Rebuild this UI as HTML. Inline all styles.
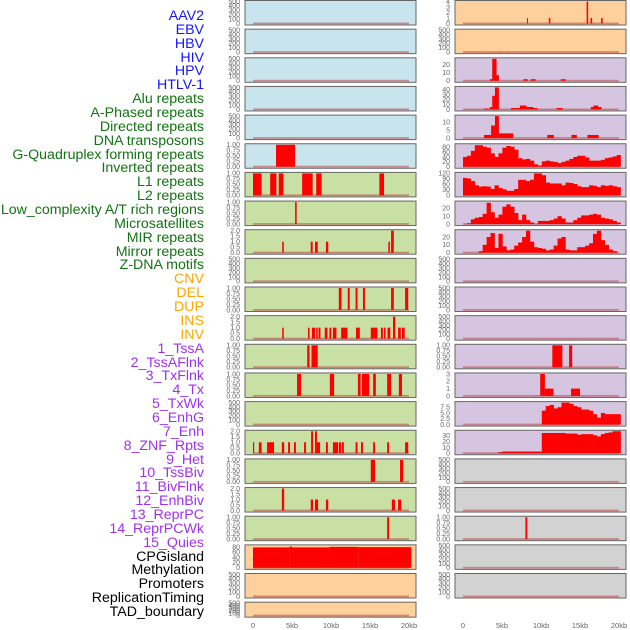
<!DOCTYPE html>
<html><head><meta charset="utf-8">
<style>
html,body{margin:0;padding:0;background:#fff;width:630px;height:630px;overflow:hidden;font-family:"Liberation Sans",sans-serif}
#labels{position:absolute;left:0;top:0;width:204px;height:630px}
.lb{position:absolute;right:0;font-size:14.2px;line-height:14px;white-space:nowrap}
svg{position:absolute;left:0;top:0}
</style></head>
<body>
<div id="labels"></div>
<svg id="chart" width="630" height="630"></svg>
<script>
// ---- labels ----
const trackLabels=["AAV2","EBV","HBV","HIV","HPV","HTLV-1","Alu repeats","A-Phased repeats","Directed repeats","DNA transposons","G-Quadruplex forming repeats","Inverted repeats","L1 repeats","L2 repeats","Low_complexity A/T rich regions","Microsatellites","MIR repeats","Mirror repeats","Z-DNA motifs","CNV","DEL","DUP","INS","INV","1_TssA","2_TssAFlnk","3_TxFlnk","4_Tx","5_TxWk","6_EnhG","7_Enh","8_ZNF_Rpts","9_Het","10_TssBiv","11_BivFlnk","12_EnhBiv","13_ReprPC","14_ReprPCWk","15_Quies","CPGisland","Methylation","Promoters","ReplicationTiming","TAD_boundary"];
const labelColors=["#1414ff","#137313","#ffa500","#a030f0","#000"];
const labelGroupEnds=[6,19,24,39,44];

// ---- x axis ----
const xTicks=[0,5,10,15,20];
const xTickLabels=["0","5kb","10kb","15kb","20kb"];

// ---- left column panels: segments [startKb,endKb,value] ----
const L5=[[2.95,5.4,1]];
const L6=[[0,1.1,1],[2.2,3.0,1],[3.3,3.9,1],[6.3,7.65,1],[8.1,8.8,1],[16.2,16.8,1]];
const L7=[[5.4,5.6,1]];
const L8=[[3.75,3.95,1],[7.4,7.65,1],[7.95,8.3,1],[9.35,9.65,1],[17.35,17.55,1],[17.7,18.05,2]];
const L10=[[11.0,11.35,1],[12.15,12.4,1],[13.15,13.4,1],[14.1,14.35,1],[17.7,18.05,1],[19.5,19.9,1]];
const L11=[[3.75,3.95,1],[7.05,7.25,1],[7.55,7.95,1],[8.1,8.3,1],[8.4,8.65,1],[9.2,9.55,1],[9.8,10.05,1],[10.25,10.7,1],[11.3,12.1,1],[13.2,13.7,1],[15.1,15.95,1],[16.4,16.65,1],[16.8,17.0,1],[17.25,17.6,1],[17.95,18.25,2],[18.6,18.95,1],[19.1,19.45,1]];
const L12=[[6.95,7.25,1],[7.5,8.3,1]];
const L13=[[5.65,6.15,1],[9.85,10.4,1],[13.45,13.8,1],[13.95,14.9,1],[15.4,15.75,1],[17.2,17.7,1],[18.7,19.1,1]];
const L15=[[0,0.15,1],[0.75,1.1,1],[1.8,2.05,1],[2.05,2.7,1],[3.7,4.0,1],[4.5,4.75,1],[5.25,5.5,1],[6.55,6.8,1],[7.45,7.7,2],[7.95,8.2,2],[8.2,8.6,1],[9.35,9.6,1],[10.25,10.9,1],[11.0,11.3,1],[11.4,11.65,1],[13.15,13.4,1],[13.85,14.1,1],[15.4,15.65,1],[17.2,17.45,1],[19.5,19.9,1]];
const L16=[[15.1,15.65,1],[18.85,19.25,1]];
const L17=[[3.7,4.0,2],[7.4,7.7,1],[7.95,8.35,1],[9.35,9.65,1],[17.8,18.2,1],[18.6,19.0,1]];
const L18=[[17.2,17.45,1]];
const L19=[[0,4.7,79],[4.7,5.0,82],[5.0,9.8,79],[9.8,13.5,81],[13.5,20.3,80]];

// ---- right column panels ----
const R0=[[8.2,8.3,1],[11.0,11.2,1],[15.85,16.05,4],[16.35,16.55,1],[17.7,17.9,1]];
const R2=[[3.45,3.75,2],[3.75,4.3,27],[4.3,4.6,7],[7.75,8.3,2],[8.7,9.3,2],[12.55,13.15,2]];
const R3=[[2.7,3.45,2],[3.45,3.75,5],[3.75,4.1,28],[4.1,4.6,45],[6.15,7.3,3],[7.3,8.15,8],[8.15,9.0,5],[9.0,9.55,3],[12.0,12.8,3],[16.4,16.7,5],[16.7,17.35,8],[17.35,17.75,5]];
const R4=[[2.7,3.6,2],[3.6,4.1,8],[4.1,4.6,14],[4.6,6.45,3],[10.8,11.65,2],[13.9,14.6,2],[15.95,17.4,2]];
// binned densities (40 bins over 0–20.2 kb)
const R5=[40,45,65,88,88,82,78,55,40,55,78,85,82,70,35,30,32,25,10,5,22,25,22,20,15,20,25,32,40,45,45,38,25,25,25,28,35,38,42,48];
const R6=[95,92,78,55,48,50,48,35,55,40,33,25,25,35,85,85,78,85,120,120,110,70,65,65,65,55,70,68,62,50,45,45,55,52,45,55,52,55,50,45];
const R7=[0,1,6,8,9,13,27,15,8,12,22,25,22,14,5,12,5,2,0,4,4,4,5,7,10,7,2,2,5,8,11,11,12,13,12,8,7,6,4,2];
const R8=[0,0,0,0,2,10,20,25,6,24,8,3,4,9,13,20,28,14,7,6,5,3,4,9,18,20,4,3,3,7,7,9,12,24,28,16,10,4,2,0];
const R12=[[11.45,12.74,1],[13.6,14.0,1]];
const R13=[[9.9,10.5,3],[10.5,11.6,1],[13.85,15.0,1]];
const R14=[0,0,0,0,0,0,0,0,0,0,0,0,0,0,0,0,0,0,0,0,6,8,8.5,7,7.5,9.5,9.5,9,8,7.5,6.5,6.5,6,4.5,3,5,4.5,4.5,4.5,4.5];
const R15=[0,0,0,0,0,0,0,0,0,2,3,3,3,3,3,3,3,3,3,3,35,35,35,35,35,35,34,34,34,32,33,33,33,31,29,33,35,36,38,38];
const R19=[[8.0,8.25,1]];

// ---- tick sets ----
const tEmpty=[0,100,200,300,400,500], tEmptyLbl=["0","100","200","300","400","500"];
const tOne=[0,0.25,0.5,0.75,1], tOneLbl=["0.00","0.25","0.50","0.75","1.00"];
const tTwo=[0,0.5,1,1.5,2], tTwoLbl=["0.0","0.5","1.0","1.5","2.0"];

const BLUE="#c8e4ec",GREEN="#c8e0a4",ORANGE="#fdd09c",PURPLE="#d5c5e1",GRAY="#d2d2d2";
const E={ymax:500,t:tEmpty,tl:tEmptyLbl};
const ONE={ymax:1,t:tOne,tl:tOneLbl};
const TWO={ymax:2,t:tTwo,tl:tTwoLbl};

const leftPanels=[
 {bg:BLUE,...E},{bg:BLUE,...E},{bg:BLUE,...E},{bg:BLUE,...E},{bg:BLUE,...E},
 {bg:BLUE,...ONE,segs:L5},{bg:GREEN,...ONE,segs:L6},{bg:GREEN,...ONE,segs:L7},
 {bg:GREEN,...TWO,segs:L8},{bg:GREEN,...E},{bg:GREEN,...ONE,segs:L10},
 {bg:GREEN,...TWO,segs:L11},{bg:GREEN,...ONE,segs:L12},{bg:GREEN,...ONE,segs:L13},
 {bg:GREEN,...E},{bg:GREEN,...TWO,segs:L15},{bg:GREEN,...ONE,segs:L16},
 {bg:GREEN,...TWO,segs:L17},{bg:GREEN,...ONE,segs:L18},
 {bg:ORANGE,ymax:85,t:[0,20,40,60,80],tl:["0","20","40","60","80"],segs:L19},
 {bg:ORANGE,...E},{bg:ORANGE,...E}
];
const rightPanels=[
 {bg:ORANGE,ymax:4,t:[0,1,2,3,4],tl:["0","1","2","3","4"],segs:R0},{bg:ORANGE,...E},
 {bg:PURPLE,ymax:27,t:[0,10,20],tl:["0","10","20"],segs:R2},
 {bg:PURPLE,ymax:45,t:[0,10,20,30,40],tl:["0","10","20","30","40"],segs:R3},
 {bg:PURPLE,ymax:14,t:[0,5,10],tl:["0","5","10"],segs:R4},
 {bg:PURPLE,ymax:90,t:[0,20,40,60,80],tl:["0","20","40","60","80"],bins:R5},
 {bg:PURPLE,ymax:120,t:[0,30,60,90,120],tl:["0","30","60","90","120"],bins:R6},
 {bg:PURPLE,ymax:28,t:[0,10,20],tl:["0","10","20"],bins:R7},
 {bg:PURPLE,ymax:28,t:[0,10,20],tl:["0","10","20"],bins:R8},
 {bg:PURPLE,...E},{bg:PURPLE,...E},{bg:PURPLE,...E},
 {bg:PURPLE,...ONE,segs:R12},
 {bg:PURPLE,ymax:3,t:[0,1,2,3],tl:["0","1","2","3"],segs:R13},
 {bg:PURPLE,ymax:9.5,t:[0,2.5,5,7.5],tl:["0.0","2.5","5.0","7.5"],bins:R14},
 {bg:PURPLE,ymax:38,t:[0,10,20,30],tl:["0","10","20","30"],bins:R15},
 {bg:GRAY,...E},{bg:GRAY,...E},{bg:GRAY,...ONE,segs:R19},{bg:GRAY,...E},{bg:GRAY,...E}
];
</script>
<script>
const NS="http://www.w3.org/2000/svg";
const svg=document.getElementById('chart');
function mk(tag,attrs,parent){const e=document.createElementNS(NS,tag);for(const k in attrs)e.setAttribute(k,attrs[k]);(parent||svg).appendChild(e);return e;}

// labels
const lw=document.getElementById('labels');
let g=0;
trackLabels.forEach((t,i)=>{
  while(i>=labelGroupEnds[g])g++;
  const d=document.createElement('div');
  d.className='lb';
  d.textContent=t;
  d.style.top=(15+i*13.86-6)+'px';
  d.style.color=labelColors[g];
  
  
  lw.appendChild(d);
});

const BINW=20.2/40;
function panelTop(i){return 0.5+28.65*i;}
function panelH(i){return i===21?15:24.5;}

function drawColumn(panels,boxX,x0,side){
  const xs=kb=>x0+kb*7.8;
  panels.forEach((p,i)=>{
    const top=panelTop(i),h=panelH(i);
    const grp=mk('g',{});
    
    
    mk('rect',{x:boxX,y:top,width:171,height:h,fill:p.bg,stroke:'#666',"stroke-width":1},grp);
    const yb=top+h-1.5, yt=top+1;
    const ys=v=>yb-(v/p.ymax)*(yb-yt);
    p.t.forEach((tv,k)=>{
      const tx=mk('text',{x:boxX-5,y:ys(tv)+2.3,"font-size":"7","text-anchor":"end",fill:"#666","font-family":"Liberation Sans, sans-serif"},grp);
      tx.textContent=p.tl[k];
      
      
    });
    mk('rect',{x:xs(0),y:yb-1,width:xs(20)-xs(0),height:1.8,fill:'rgba(190,70,70,0.55)'},grp);
    if(p.segs){
      p.segs.forEach(s=>{
        const r=mk('rect',{x:xs(s[0]),y:ys(s[2]),width:Math.max(1,xs(s[1])-xs(s[0])),height:yb-ys(s[2]),fill:'#ff0000'},grp);
        
        
      });
    }
    if(p.bins){
      p.bins.forEach((v,k)=>{
        if(v<=0)return;
        const r=mk('rect',{x:xs(k*BINW),y:ys(v),width:xs((k+1)*BINW)-xs(k*BINW)+0.3,height:yb-ys(v),fill:'#ff0000'},grp);
        
        
      });
    }
  });
  xTicks.forEach((t,k)=>{
    const tx=mk('text',{x:xs(t),y:628,"font-size":"7.5","text-anchor":"middle",fill:"#666","font-family":"Liberation Sans, sans-serif"});
    tx.textContent=xTickLabels[k];
    
    
  });
}
drawColumn(leftPanels,245,253,'left');
drawColumn(rightPanels,455,463,'right');
</script>
</body></html>
